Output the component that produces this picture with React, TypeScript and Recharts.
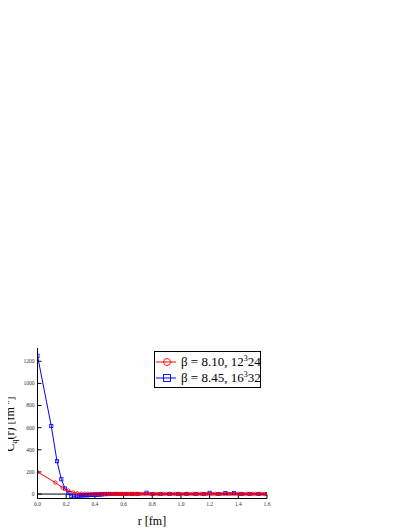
import React from 'react';
import { LineChart, Line, XAxis, YAxis, ReferenceLine, Legend } from 'recharts';

const redR = [0, 0.124, 0.175, 0.215, 0.248, 0.277, 0.304, 0.328, 0.351, 0.372, 0.392, 0.411, 0.43, 0.447, 0.464, 0.48, 0.496, 0.511, 0.526, 0.54, 0.555, 0.568, 0.582, 0.595, 0.608, 0.62, 0.633, 0.645, 0.656, 0.668, 0.679, 0.69, 0.702, 0.72, 0.74, 0.76, 0.78, 0.8, 0.82, 0.84, 0.86, 0.88, 0.9, 0.92, 0.94, 0.96, 0.98, 1.0, 1.02, 1.04, 1.06, 1.08, 1.1, 1.12, 1.14, 1.16, 1.18, 1.2, 1.22, 1.24, 1.26, 1.28, 1.3, 1.32, 1.34, 1.36, 1.38, 1.4, 1.42, 1.44, 1.46, 1.48, 1.5, 1.52, 1.54, 1.56, 1.58, 1.6];
const redC = [200, 104, 56, 32, 15, 7, 4, 3, 2, 2, 1, 2, 1, 1, 2, 1, 2, 1, 1, 2, 2, 1, 1, 2, 1, 2, 1, 1, 2, 1, 2, 1, 1, 2, 1, 1, 2, 1, 2, 1, 1, 2, 1, 2, 1, 1, 2, 1, 1, 2, 1, 2, 1, 1, 2, 1, 1, 2, 1, 2, 1, 1, 2, 1, 1, 2, 1, 2, 1, 1, 2, 1, 1, 2, 1, 2, 1, 1];

const blueR = [0, 0.096, 0.136, 0.166, 0.192, 0.215, 0.235, 0.254, 0.272, 0.288, 0.304, 0.318, 0.333, 0.346, 0.359, 0.372, 0.384, 0.396, 0.407, 0.419, 0.43, 0.44, 0.45, 0.47, 0.49, 0.52, 0.55, 0.58, 0.62, 0.66, 0.7, 0.76, 0.8, 0.86, 0.92, 0.98, 1.04, 1.1, 1.16, 1.2, 1.26, 1.31, 1.37, 1.42, 1.48, 1.54, 1.6];
const blueC = [1250, 615, 297, 134, 50, 9, -16, -20, -17, -15, -12, -13, -10, -11, -9, -8, -7, -6, -6, -5, -4, -3, -2, -1, 0, 1, 1, 1, 1, 1, 1, 12, 1, 1, 1, 1, 1, 1, 1, 11, 1, 9, 10, 1, 1, 1, 1];

const xTicks = [0, 0.2, 0.4, 0.6, 0.8, 1.0, 1.2, 1.4, 1.6];
const yTicks = [0, 200, 400, 600, 800, 1000, 1200];
const seriesNames = ['β = 8.10, 12', 'β = 8.45, 16'];
const seriesSup = ['3', '3'];
const seriesTail = ['24', '32'];
const RED = '#ff0000';
const BLUE = '#0000ff';

const redData = redR.map((r, i) => ({ r, c: redC[i] }));
const blueData = blueR.map((r, i) => ({ r, c: blueC[i] }));

const FONT = '"Liberation Serif", "DejaVu Serif", serif';

const SquareDot = (props: any) => {
  const { cx, cy, index } = props;
  if (cx == null || cy == null) return <g key={`b${index}`} />;
  return <rect key={`b${index}`} x={cx - 1.6} y={cy - 1.6} width={3.2} height={3.2} fill="none" stroke={BLUE} strokeWidth={0.8} />;
};
const CircleDot = (props: any) => {
  const { cx, cy, index } = props;
  if (cx == null || cy == null) return <g key={`r${index}`} />;
  return <circle key={`r${index}`} cx={cx} cy={cy} r={1.7} fill="none" stroke={RED} strokeWidth={0.8} />;
};

const LegendContent = () => (
  <div style={{ border: '1px solid #000', background: '#fff', width: 107, height: 37, boxSizing: 'border-box', fontFamily: FONT, fontSize: 13, color: '#000', position: 'relative' }}>
    {[RED, BLUE].map((col, i) => (
      <div key={i} style={{ position: 'absolute', left: 0, top: 2 + i * 16, height: 16, display: 'flex', alignItems: 'center', whiteSpace: 'nowrap' }}>
        <svg width={24} height={16} style={{ display: 'block' }}>
          <line x1={1} y1={8} x2={21} y2={8} stroke={col} strokeWidth={1} />
          {i === 0 ? (
            <circle cx={12} cy={8} r={3.5} fill="none" stroke={col} strokeWidth={0.9} />
          ) : (
            <rect x={8.5} y={4.5} width={7} height={7} fill="none" stroke={col} strokeWidth={0.9} />
          )}
        </svg>
        <span style={{ marginLeft: 2, lineHeight: '16px' }}>
          {seriesNames[i]}
          <sup style={{ fontSize: 8, verticalAlign: 'top', lineHeight: '10px' }}>{seriesSup[i]}</sup>
          {seriesTail[i]}
        </span>
      </div>
    ))}
  </div>
);

const YLabel = () => (
  <text transform="translate(14,424) rotate(-90)" textAnchor="middle" fontFamily={FONT} fontSize={12} fill="#000">
    <tspan>C</tspan>
    <tspan fontSize={8} dy={3}>q</tspan>
    <tspan dy={-3}>(r)  [fm</tspan>
    <tspan fontSize={8} dy={-5}>-8</tspan>
    <tspan dy={5}>]</tspan>
  </text>
);

const XLabel = () => (
  <text x={152} y={525} textAnchor="middle" fontFamily={FONT} fontSize={12} fill="#000">r [fm]</text>
);

export default function App() {
  const tickStyle = { fontFamily: FONT, fontSize: 5.5, fill: '#333' };
  return (
    <div style={{ marginLeft: -8, marginTop: -8, width: 409, height: 529, background: '#fff' }}>
      <LineChart width={409} height={529} margin={{ top: 348, right: 142, bottom: 0, left: 0 }}>
        <XAxis
          xAxisId="b"
          dataKey="r"
          type="number"
          domain={[0, 1.6]}
          ticks={xTicks}
          allowDataOverflow
          tickFormatter={(v: number) => v.toFixed(1)}
          height={30.5}
          tickSize={-4}
          tickMargin={8}
          tick={tickStyle}
          stroke="#000"
          axisLine={{ stroke: '#000' }}
          tickLine={{ stroke: '#000' }}
          label={<XLabel />}
        />
        <XAxis
          xAxisId="t"
          orientation="top"
          dataKey="r"
          type="number"
          domain={[0, 1.6]}
          ticks={xTicks}
          allowDataOverflow
          height={0}
          tickSize={-4}
          tick={false}
          axisLine={{ stroke: '#000' }}
          tickLine={{ stroke: '#000' }}
        />
        <YAxis
          yAxisId="l"
          type="number"
          domain={[-40, 1320]}
          ticks={yTicks}
          allowDataOverflow
          width={37.5}
          tickSize={-4}
          tickMargin={7}
          tick={tickStyle}
          axisLine={{ stroke: '#000' }}
          tickLine={{ stroke: '#000' }}
          label={<YLabel />}
        />
        <YAxis
          yAxisId="r"
          orientation="right"
          type="number"
          domain={[-40, 1320]}
          ticks={yTicks}
          allowDataOverflow
          width={0}
          tickSize={-4}
          tick={false}
          axisLine={{ stroke: '#000' }}
          tickLine={{ stroke: '#000' }}
        />
        <ReferenceLine xAxisId="b" yAxisId="l" y={0} stroke="#000" strokeWidth={1} />
        <Line
          xAxisId="b"
          yAxisId="l"
          data={blueData}
          dataKey="c"
          name="blue"
          stroke={BLUE}
          strokeWidth={1}
          dot={SquareDot}
          isAnimationActive={false}
        />
        <Line
          xAxisId="b"
          yAxisId="l"
          data={redData}
          dataKey="c"
          name="red"
          stroke={RED}
          strokeWidth={1}
          dot={CircleDot}
          isAnimationActive={false}
        />
        <Legend
          layout="horizontal"
          verticalAlign="middle"
          align="center"
          content={<LegendContent />}
          wrapperStyle={{ position: 'absolute', left: 154, top: 351, width: 107, height: 37, bottom: 'auto', right: 'auto', margin: 0 }}
        />
      </LineChart>
    </div>
  );
}
